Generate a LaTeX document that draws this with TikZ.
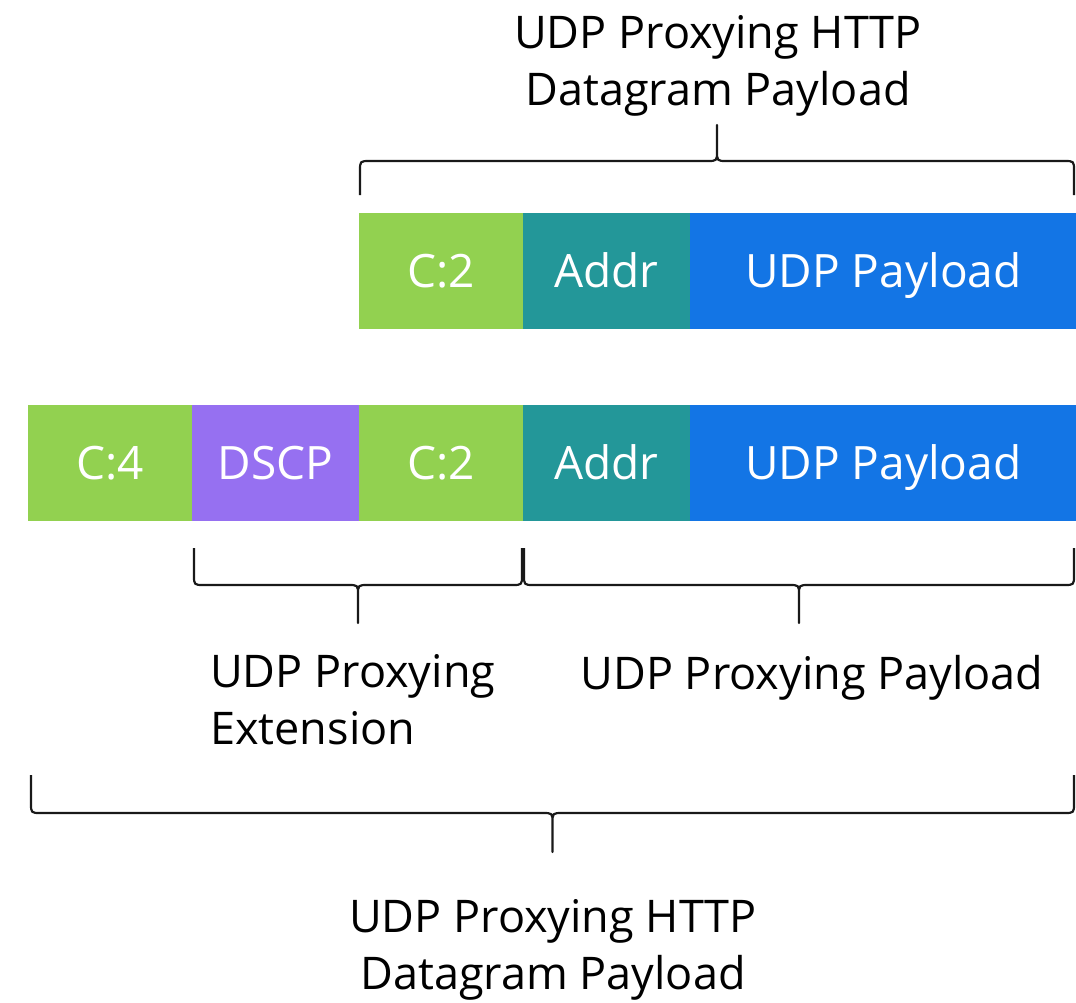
\documentclass[tikz,border=0pt]{standalone}
\usepackage{fontspec}
\setmainfont{Open Sans}
\usepackage{tikz}
\usetikzlibrary{positioning, calc}
\definecolor{clrGreen}{HTML}{92D150}
\definecolor{clrTeal}{HTML}{239799}
\definecolor{clrBlue}{HTML}{1375E5}
\definecolor{clrPurple}{HTML}{9670F1}
\tikzset{
  field/.style={rectangle, anchor=north west, inner sep=0pt, minimum height=115, text height=33pt, text depth=0pt, text=white, font=\fontsize{46}{55}\selectfont},
  fld cap/.style={field, fill=clrGreen, draw=clrGreen, minimum width=164},
  fld addr/.style={field, fill=clrTeal, draw=clrTeal, minimum width=166},
  fld dscp/.style={field, fill=clrPurple, draw=clrPurple, minimum width=166},
  fld pay/.style={field, fill=clrBlue, draw=clrBlue, minimum width=387},
  brace line/.style={draw=black!90, line width=2.2pt, line join=round},
  lbl/.style={font=\fontsize{45}{57}\selectfont, align=center, inner sep=0pt},
}
% #1 left x, #2 right x, #3 end y, #4 line y, #5 tip y
\newcommand{\fieldbrace}[5]{%
  \pgfmathsetmacro{\bxm}{(#1+#2)/2}%
  \pgfmathsetmacro{\bs}{sign(#5-#3)}%
  \draw[brace line] (#1,#3) -- (#1,#4-\bs*10) .. controls (#1,#4) .. (#1+10,#4)
    -- (\bxm-10,#4) .. controls (\bxm,#4) .. (\bxm,#4+\bs*10) -- (\bxm,#5)
    -- (\bxm,#4+\bs*10) .. controls (\bxm,#4) .. (\bxm+10,#4)
    -- (#2-10,#4) .. controls (#2,#4) .. (#2,#4-\bs*10) -- (#2,#3);
}

\begin{document}
\begin{tikzpicture}[x=1pt, y=-1pt]
  \useasboundingbox (0,0) rectangle (1076,1002);

  % Upper packet
  \node[fld cap] (capA) at (359,213) {C:2};
  \node[fld addr, right=0pt of capA] (addrA) {Addr};
  \node[fld pay, right=0pt of addrA] (payA) {UDP Payload};

  % Lower packet
  \node[fld cap] (capB) at (28,405) {C:4};
  \node[fld dscp, right=0pt of capB] (dscpB) {DSCP};
  \node[fld cap, right=0pt of dscpB] (capC) {C:2};
  \node[fld addr, right=0pt of capC] (addrB) {Addr};
  \node[fld pay, right=0pt of addrB] (payB) {UDP Payload};

  % Braces
  \fieldbrace{360}{1074}{195}{161}{125}
  \fieldbrace{194}{522}{548}{585}{623}
  \fieldbrace{524}{1074}{548}{585}{623}
  \fieldbrace{31}{1074}{775}{813}{852}

  % Labels
  \node[lbl] (topLbl) at (718,66) {UDP Proxying HTTP\\Datagram Payload};
  \node[lbl, align=left, anchor=north west] (extLbl) at (210,654) {UDP Proxying\\Extension};
  \node[lbl] (payLbl) at (812,678) {UDP Proxying Payload};
  \node[lbl] (botLbl) at (553,950) {UDP Proxying HTTP\\Datagram Payload};
\end{tikzpicture}
\end{document}
